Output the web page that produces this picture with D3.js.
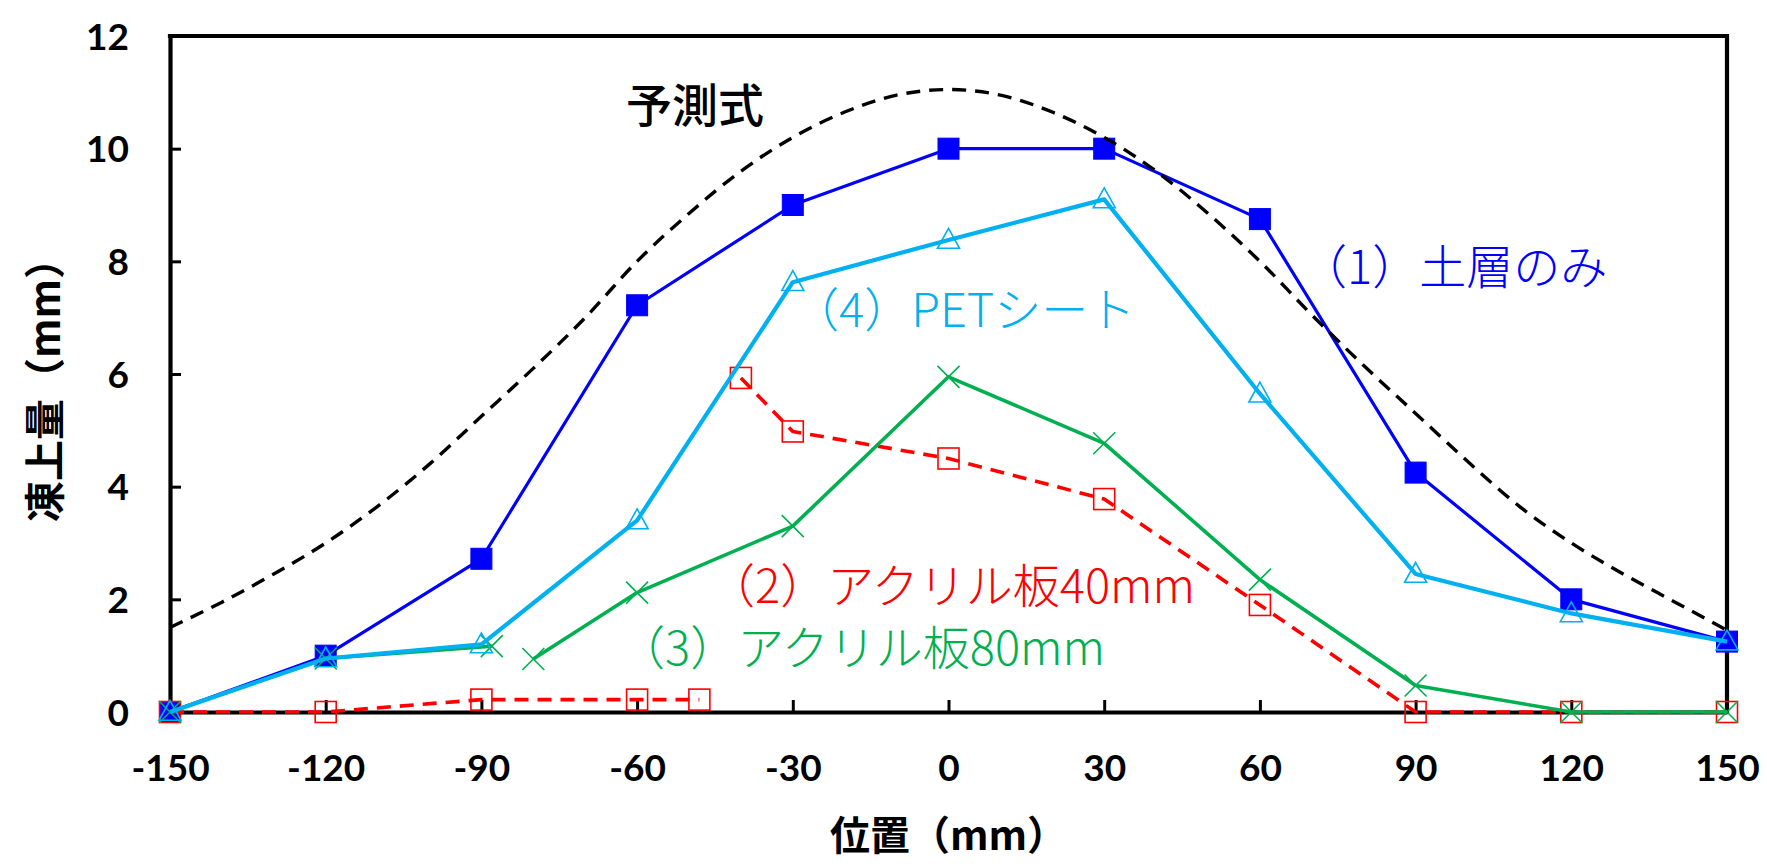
<!DOCTYPE html>
<html>
<head>
<meta charset="utf-8">
<script src="https://cdn.jsdelivr.net/npm/d3@7"></script>
<style>
  html, body { margin: 0; padding: 0; background: #fff; }
  svg { display: block; }
</style>
</head>
<body>
<svg id="chart" width="1767" height="866"></svg>
<script>
// ---------------- data ----------------
const xTicks = [-150, -120, -90, -60, -30, 0, 30, 60, 90, 120, 150];
const yTicks = [0, 2, 4, 6, 8, 10, 12];

// (1) 土層のみ
const soilPos = [-150, -120, -90, -60, -30, 0, 30, 60, 90, 120, 150];
const soilVal = [0, 1.0, 2.72, 7.22, 9.0, 10.0, 10.0, 8.75, 4.25, 2.0, 1.25];

// (4) PETシート
const petPos = [-150, -120, -90, -60, -30, 0, 30, 60, 90, 120, 150];
const petVal = [0, 0.95, 1.2, 3.4, 7.63, 8.38, 9.1, 5.65, 2.45, 1.75, 1.25];

// (2) アクリル板40mm (null = break in the line)
const acryl40Pos = [-150, -120, -90, -60, -48, null, -40, -30, 0, 30, 60, 90, 120, 150];
const acryl40Val = [0, 0, 0.22, 0.22, 0.22, null, 5.93, 4.98, 4.5, 3.78, 1.9, 0, 0, 0];

// (3) アクリル板80mm (null = break in the line)
const acryl80Pos = [-150, -120, -88, null, -80, -60, -30, 0, 30, 60, 90, 120, 150];
const acryl80Val = [0, 0.95, 1.17, null, 0.94, 2.12, 3.3, 5.95, 4.77, 2.35, 0.47, 0, 0];

// 予測式
const predPos = [-150, -140, -130, -120, -110, -100, -90, -80, -70, -60, -50, -40, -30, -20, -10, 0,
                 10, 20, 30, 40, 50, 60, 70, 80, 90, 100, 110, 120, 130, 140, 150];
const predVal = [1.5, 1.95, 2.45, 3.0, 3.65, 4.4, 5.25, 6.1, 7.0, 8.0, 8.85, 9.6, 10.2, 10.65, 10.95, 11.05,
                 10.95, 10.65, 10.2, 9.6, 8.85, 8.0, 7.05, 6.15, 5.3, 4.45, 3.65, 3.0, 2.45, 1.95, 1.45];

const labels = {
  soil: "（1）土層のみ",
  pet: "（4）PETシート",
  a40: "（2）アクリル板40mm",
  a80: "（3）アクリル板80mm",
  pred: "予測式",
  xTitle: "位置（mm）",
  yTitle: "凍上量（mm）"
};

// ---------------- layout ----------------
const svg = d3.select("#chart");
const L = 170, R = 1727, T = 36, B = 712;
const x = d3.scaleLinear().domain([-150, 150]).range([L, R]);
const y = d3.scaleLinear().domain([0, 12]).range([B, T]);

const zip = (px, py) => px.map((p, i) => [p, py[i]]);
const line = d3.line()
  .defined(d => d[0] !== null && d[1] !== null)
  .x(d => x(d[0])).y(d => y(d[1]));

const CJK = "'Noto Sans CJK JP', 'Noto Sans', sans-serif";
const NUM = "Lato, 'Open Sans', sans-serif";

// ---------------- axes ----------------
const gx = svg.append("g").attr("transform", `translate(0,${B})`)
  .call(d3.axisBottom(x).tickValues(xTicks).tickFormat(d => String(d))
    .tickSizeInner(-12).tickSizeOuter(0).tickPadding(43));
const gy = svg.append("g").attr("transform", `translate(${L},0)`)
  .call(d3.axisLeft(y).tickValues(yTicks).tickFormat(d => String(d))
    .tickSizeInner(-11).tickSizeOuter(0).tickPadding(41));

[gx, gy].forEach(g => {
  g.select(".domain").attr("stroke", "#000").attr("stroke-width", 4.2);
  g.selectAll(".tick line").attr("stroke", "#000").attr("stroke-width", 3);
  g.selectAll(".tick text")
    .attr("fill", "#000")
    .style("font-family", NUM)
    .style("font-weight", "bold")
    .style("font-size", "37px");
});
gy.selectAll(".tick text").attr("dy", "0.36em");

// top and right frame
svg.append("path")
  .attr("d", `M${L},${T}H${R}V${B}`)
  .attr("fill", "none").attr("stroke", "#000").attr("stroke-width", 4.2)
  .attr("stroke-linecap", "square");

// ---------------- series ----------------
const plot = svg.append("g");

function drawLine(data, color, width, dash) {
  plot.append("path").datum(data)
    .attr("d", line)
    .attr("fill", "none")
    .attr("stroke", color)
    .attr("stroke-width", width)
    .attr("stroke-dasharray", dash || null)
    .attr("stroke-linejoin", "round");
}
const valid = data => data.filter(d => d[0] !== null && d[1] !== null);

function squares(data, fill, stroke, size, sw) {
  plot.selectAll(null).data(valid(data)).enter().append("rect")
    .attr("x", d => x(d[0]) - size / 2).attr("y", d => y(d[1]) - size / 2)
    .attr("width", size).attr("height", size)
    .attr("fill", fill).attr("stroke", stroke).attr("stroke-width", sw);
}
function triangles(data, color, size, sw) {
  const h = size * 0.9;
  plot.selectAll(null).data(valid(data)).enter().append("path")
    .attr("d", d => {
      const cx = x(d[0]), cy = y(d[1]);
      return `M${cx},${cy - h * 0.58}L${cx + size / 2},${cy + h * 0.42}L${cx - size / 2},${cy + h * 0.42}Z`;
    })
    .attr("fill", "none").attr("stroke", color).attr("stroke-width", sw);
}
function crosses(data, color, size, sw) {
  const s = size / 2;
  plot.selectAll(null).data(valid(data)).enter().append("path")
    .attr("d", d => {
      const cx = x(d[0]), cy = y(d[1]);
      return `M${cx - s},${cy - s}L${cx + s},${cy + s}M${cx + s},${cy - s}L${cx - s},${cy + s}`;
    })
    .attr("fill", "none").attr("stroke", color).attr("stroke-width", sw);
}

const soilData = zip(soilPos, soilVal);
const petData = zip(petPos, petVal);
const a40Data = zip(acryl40Pos, acryl40Val);
const a80Data = zip(acryl80Pos, acryl80Val);
const predData = zip(predPos, predVal);

const BLUE = "#0000FF", LBLUE = "#00B0F0", GREEN = "#00B050", RED = "#FF0000";

drawLine(soilData, BLUE, 3.2);
squares(soilData, BLUE, BLUE, 21, 1);

drawLine(a40Data, RED, 3.6, "14,9");
squares(a40Data, "none", RED, 21, 1.6);

drawLine(a80Data, GREEN, 3.6);
crosses(a80Data, GREEN, 22, 1.6);

drawLine(petData, LBLUE, 4.2);
triangles(petData, LBLUE, 22, 1.6);

plot.append("path").datum(predData)
  .attr("d", d3.line().x(d => x(d[0])).y(d => y(d[1])).curve(d3.curveMonotoneX))
  .attr("fill", "none").attr("stroke", "#000").attr("stroke-width", 3.4)
  .attr("stroke-dasharray", "14,9");

// ---------------- labels ----------------
function label(text, px, py, color, size, weight) {
  svg.append("text")
    .attr("x", px).attr("y", py)
    .attr("dominant-baseline", "central")
    .attr("fill", color)
    .style("font-family", CJK)
    .style("font-size", size + "px")
    .style("font-weight", weight)
    .text(text);
}
label(labels.pred, 626, 102, "#000", 46, 500);
label(labels.soil, 1300, 263, BLUE, 47, 300);
label(labels.pet, 792, 306, LBLUE, 47, 300);
label(labels.a40, 708, 582, RED, 47, 300);
label(labels.a80, 618, 644, GREEN, 47, 300);

// axis titles
svg.append("text")
  .attr("x", (L + R) / 2).attr("y", 833)
  .attr("text-anchor", "middle").attr("dominant-baseline", "central")
  .attr("fill", "#000")
  .style("font-family", CJK).style("font-size", "40px").style("font-weight", "bold")
  .text(labels.xTitle);

svg.append("text")
  .attr("transform", "translate(42,380) rotate(-90)")
  .attr("text-anchor", "middle").attr("dominant-baseline", "central")
  .attr("fill", "#000")
  .style("font-family", CJK).style("font-size", "41px").style("font-weight", "bold")
  .text(labels.yTitle);
</script>
</body>
</html>
